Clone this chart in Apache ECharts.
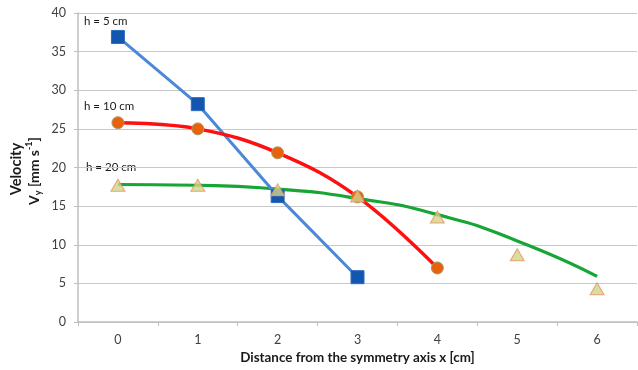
<!DOCTYPE html>
<html>
<head>
<meta charset="utf-8">
<script src="https://cdn.jsdelivr.net/npm/echarts@6/dist/echarts.min.js"></script>
<style>html,body{margin:0;padding:0;background:#fff}#c{width:638px;height:370px}</style>
</head>
<body>
<div id="c"></div>
<script>
const categories = ['0', '1', '2', '3', '4', '5', '6'];
const yTicks = { min: 0, max: 40, interval: 5 };
const h5 = [36.9, 28.2, 16.3, 5.8, null, null, null];
const h10 = [25.8, 25.0, 21.9, 16.2, 7.0, null, null];
const h20 = [17.7, 17.7, 17.1, 16.3, 13.6, 8.7, 4.3];
const h20Trend = [17.8, 17.7, 17.2, 16.0, 13.9, 10.5, 5.9];
const seriesLabels = ['h = 5 cm', 'h = 10 cm', 'h = 20 cm'];

const FONT = 'Lato';
const chart = echarts.init(document.getElementById('c'));
chart.setOption({
  animation: false,
  backgroundColor: '#fff',
  textStyle: { fontFamily: FONT },
  grid: { left: 78, right: 1, top: 13, bottom: 48, containLabel: false },
  xAxis: {
    type: 'category', data: categories, boundaryGap: true,
    axisLine: { lineStyle: { color: '#bfbfbf', width: 1.5 } },
    axisTick: { show: true, length: 4, lineStyle: { color: '#bfbfbf' } },
    axisLabel: { color: '#404040', fontSize: 12.5, margin: 11, fontFamily: FONT },
    name: 'Distance from the symmetry axis x [cm]', nameLocation: 'middle', nameGap: 29,
    nameTextStyle: { color: '#1a1a1a', fontSize: 13.4, fontWeight: 'bold', fontFamily: FONT }
  },
  yAxis: {
    type: 'value', min: yTicks.min, max: yTicks.max, interval: yTicks.interval,
    axisLine: { show: true, lineStyle: { color: '#bfbfbf', width: 1.5 } },
    axisTick: { show: true, length: 4, lineStyle: { color: '#bfbfbf' } },
    axisLabel: { color: '#404040', fontSize: 12.5, margin: 12, fontFamily: FONT },
    splitLine: { lineStyle: { color: '#c8c8c8', width: 1.2 } }
  },
  graphic: [
    { type: 'text', rotation: Math.PI / 2, x: 16, y: 169,
      style: { text: 'Velocity', fill: '#1a1a1a', font: 'bold 14.5px ' + FONT, textAlign: 'center', textVerticalAlign: 'middle' } },
    { type: 'text', rotation: Math.PI / 2, x: 34, y: 171,
      style: {
        text: '{n|V}{sub|y}{n| [mm s}{sup|-1}{n|]}',
        textAlign: 'center', textVerticalAlign: 'middle',
        rich: {
          n: { font: 'bold 14px ' + FONT, fill: '#1a1a1a', lineHeight: 18, verticalAlign: 'middle' },
          sub: { font: 'bold 9px ' + FONT, fill: '#1a1a1a', lineHeight: 18, verticalAlign: 'bottom' },
          sup: { font: 'bold 9px ' + FONT, fill: '#1a1a1a', lineHeight: 18, verticalAlign: 'top' }
        }
      } },
    { type: 'text', x: 84, y: 21, style: { text: seriesLabels[0], fill: '#1a1a1a', font: '11.5px ' + FONT, textVerticalAlign: 'middle' } },
    { type: 'text', x: 84, y: 106, style: { text: seriesLabels[1], fill: '#1a1a1a', font: '11.5px ' + FONT, textVerticalAlign: 'middle' } },
    { type: 'text', x: 84, y: 167, style: { text: seriesLabels[2], fill: '#1a1a1a', font: '11.5px ' + FONT, textVerticalAlign: 'middle', backgroundColor: '#fff', padding: [0, 2, 0, 2] } }
  ],
  series: [
    { name: seriesLabels[2] + ' trend', type: 'line', data: h20Trend, smooth: 0.6, showSymbol: false, symbol: 'none',
      lineStyle: { color: '#17a535', width: 3.2 }, z: 2 },
    { name: seriesLabels[0], type: 'line', data: h5, symbol: 'rect', symbolSize: 13,
      lineStyle: { color: '#4a88d8', width: 3 },
      itemStyle: { color: '#1256b0', borderColor: '#2d6cc0', borderWidth: 1 }, z: 3 },
    { name: seriesLabels[1], type: 'line', data: h10, smooth: 0.4, symbol: 'circle', symbolSize: 12,
      lineStyle: { color: '#ff1010', width: 3.5 },
      itemStyle: { color: '#e8620c', borderColor: '#a89868', borderWidth: 1 }, z: 4 },
    { name: seriesLabels[2], type: 'scatter', data: h20, symbol: 'triangle', symbolSize: [14, 12],
      itemStyle: { color: '#d0d48a', borderColor: '#e8905a', borderWidth: 1 }, z: 5 }
  ]
});
</script>
</body>
</html>
